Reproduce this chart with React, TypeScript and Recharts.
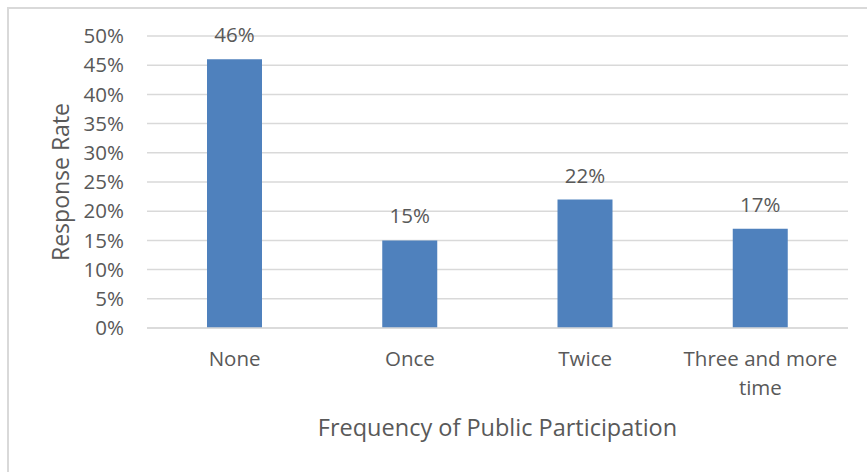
import React from "react";
import { BarChart, Bar, XAxis, YAxis, CartesianGrid, LabelList, Label } from "recharts";

const categories = ["None", "Once", "Twice", "Three and more time"];
const responseRates = [46, 15, 22, 17];
const yTicks = [0, 5, 10, 15, 20, 25, 30, 35, 40, 45, 50];

const data = categories.map((name, i) => ({ name, rate: responseRates[i] }));

const FONT = "'Open Sans', 'DejaVu Sans', sans-serif";
const TEXT = "#595959";
const GRID = "#d9d9d9";

// Break a category label into lines that fit the category band.
function wrapLabel(label: string, maxChars: number): string[] {
  const words = label.split(" ");
  const lines: string[] = [];
  let cur = "";
  for (const w of words) {
    const next = cur ? cur + " " + w : w;
    if (next.length > maxChars && cur) {
      lines.push(cur);
      cur = w;
    } else {
      cur = next;
    }
  }
  if (cur) lines.push(cur);
  return lines;
}

const CategoryTick = (props: any) => {
  const { x, y, payload } = props;
  const lines = wrapLabel(String(payload.value), 15);
  return (
    <text x={x} y={y} textAnchor="middle" fill={TEXT} fontFamily={FONT} fontSize={20.5}>
      {lines.map((ln, i) => (
        <tspan key={i} x={x} dy={i === 0 ? 30 : 29}>
          {ln}
        </tspan>
      ))}
    </text>
  );
};

export default function App() {
  return (
    <div style={{ position: "absolute", left: 0, top: 0, width: 867, height: 472, background: "#fff", overflow: "hidden" }}>
      <div
        style={{
          position: "absolute",
          left: 7,
          top: 7,
          width: 880,
          height: 480,
          border: `2px solid ${GRID}`,
          borderRightWidth: 0,
          borderBottomWidth: 0,
          boxSizing: "border-box",
        }}
      />
      <div style={{ position: "absolute", left: 0, top: 0 }}>
        <BarChart
          width={867}
          height={472}
          data={data}
          margin={{ top: 36, right: 19, left: 67, bottom: 84 }}
        >
          <CartesianGrid vertical={false} stroke={GRID} strokeWidth={1.5} />
          <XAxis
            dataKey="name"
            axisLine={{ stroke: GRID, strokeWidth: 1.5 }}
            tickLine={false}
            tick={<CategoryTick />}
            height={60}
            interval={0}
          >
            <Label
              value="Frequency of Public Participation"
              position="insideBottom"
              offset={-48}
              fill={TEXT}
              fontFamily={FONT}
              fontSize={23.5}
            />
          </XAxis>
          <YAxis
            width={80}
            domain={[0, 50]}
            ticks={yTicks}
            interval={0}
            tickFormatter={(v: number) => `${v}%`}
            axisLine={false}
            tickLine={false}
            tickMargin={17}
            tick={{ fill: TEXT, fontFamily: FONT, fontSize: 20.5 }}
          >
            <Label
              value="Response Rate"
              angle={-90}
              position="insideLeft"
              offset={-6}
              style={{ textAnchor: "middle" }}
              fill={TEXT}
              fontFamily={FONT}
              fontSize={23}
            />
          </YAxis>
          <Bar dataKey="rate" fill="#4f81bd" barSize={55} isAnimationActive={false}>
            <LabelList
              dataKey="rate"
              position="top"
              offset={17}
              formatter={(v: number) => `${v}%`}
              fill={TEXT}
              fontFamily={FONT}
              fontSize={20.5}
            />
          </Bar>
        </BarChart>
      </div>
    </div>
  );
}
